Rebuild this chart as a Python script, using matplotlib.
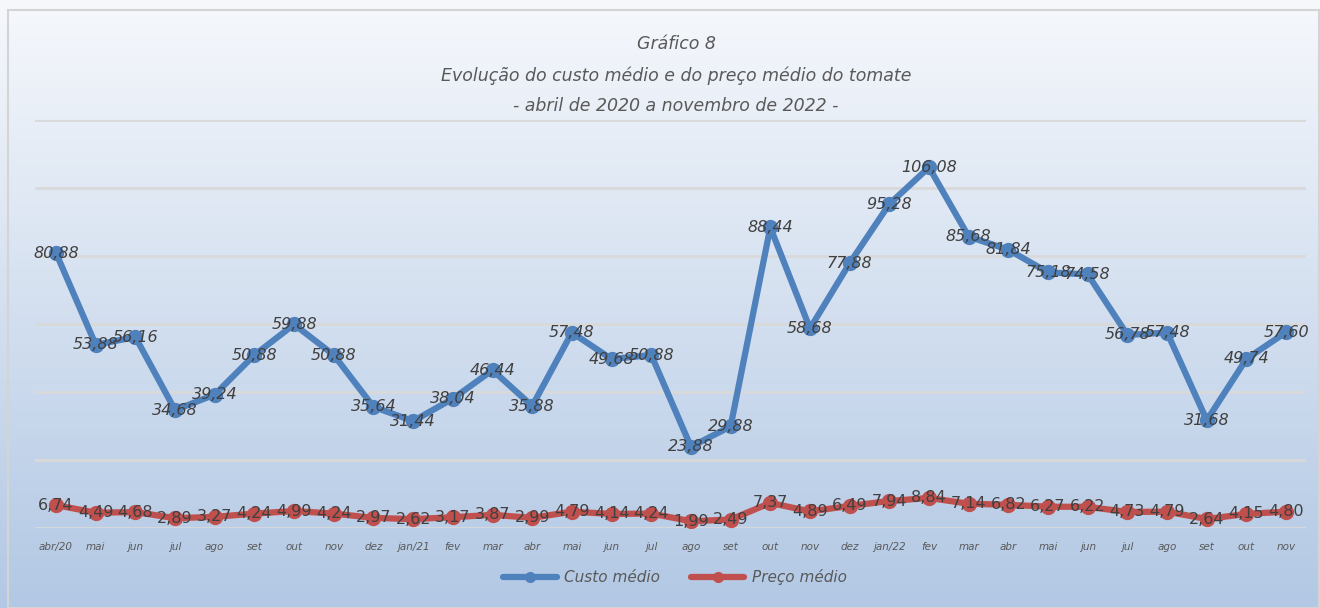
import matplotlib
matplotlib.use("Agg")
import matplotlib.pyplot as plt
import numpy as np
from matplotlib.patches import Rectangle

months = ["abr/20", "mai", "jun", "jul", "ago", "set", "out", "nov", "dez", "jan/21",
          "fev", "mar", "abr", "mai", "jun", "jul", "ago", "set", "out", "nov", "dez",
          "jan/22", "fev", "mar", "abr", "mai", "jun", "jul", "ago", "set", "out", "nov"]
custo = [80.88, 53.88, 56.16, 34.68, 39.24, 50.88, 59.88, 50.88, 35.64, 31.44,
         38.04, 46.44, 35.88, 57.48, 49.68, 50.88, 23.88, 29.88, 88.44, 58.68, 77.88,
         95.28, 106.08, 85.68, 81.84, 75.18, 74.58, 56.78, 57.48, 31.68, 49.74, 57.60]
preco = [6.74, 4.49, 4.68, 2.89, 3.27, 4.24, 4.99, 4.24, 2.97, 2.62,
         3.17, 3.87, 2.99, 4.79, 4.14, 4.24, 1.99, 2.49, 7.37, 4.89, 6.49,
         7.94, 8.84, 7.14, 6.82, 6.27, 6.22, 4.73, 4.79, 2.64, 4.15, 4.80]
title_lines = ["Gráfico 8",
               "Evolução do custo médio e do preço médio do tomate",
               "- abril de 2020 a novembro de 2022 -"]

W, H = 1320, 608
fig = plt.figure(figsize=(W / 100, H / 100), dpi=100)

# gradient background
bg = fig.add_axes([0, 0, 1, 1], zorder=0)
top = np.array([246, 248, 252]) / 255
bot = np.array([178, 200, 228]) / 255
t = np.linspace(0, 1, 256)[:, None]
grad = top[None, :] * (1 - t) + bot[None, :] * t
bg.imshow(grad[:, None, :], aspect="auto", extent=[0, 1, 0, 1])
bg.set_xlim(0, 1); bg.set_ylim(0, 1)
bg.axis("off")
fig.patches.append(Rectangle((8 / W, 0.5 / H), (W - 9) / W, (H - 10.5) / H,
                             transform=fig.transFigure, fill=False,
                             edgecolor="#d4d4d4", linewidth=1.5, zorder=1))

fam = ["DejaVu Sans"]
ax = fig.add_axes([35 / W, 1 - 528 / H, 1271 / W, (528 - 120) / H], zorder=2)
ax.patch.set_alpha(0)
x = np.arange(len(months))
ax.set_xlim(-0.53, len(months) - 0.5)
ax.set_ylim(0, 120)
for yv in range(0, 121, 20):
    ax.axhline(yv, color="#d9d9d9", linewidth=2, zorder=1)
ax.plot(x, custo, color="#4f81bd", linewidth=4.5, marker="o", markersize=10,
        solid_capstyle="round", solid_joinstyle="round", label="Custo médio", zorder=3)
ax.plot(x, preco, color="#c0504d", linewidth=4.5, marker="o", markersize=10,
        solid_capstyle="round", solid_joinstyle="round", label="Preço médio", zorder=3)
for xi, v in zip(x, custo):
    ax.text(xi, v, f"{v:.2f}".replace(".", ","), ha="center", va="center",
            fontsize=11.5, style="italic", color="#404040", family=fam, zorder=4)
for xi, v in zip(x, preco):
    ax.text(xi, v, f"{v:.2f}".replace(".", ","), ha="center", va="center",
            fontsize=11.5, color="#404040", family=fam, zorder=4)

ax.set_yticks([])
ax.set_xticks(x)
ax.set_xticklabels(months, fontsize=7.5, style="italic", color="#595959", family=fam)
ax.tick_params(axis="x", length=0, pad=10)
for s in ax.spines.values():
    s.set_visible(False)

ys = [44, 76, 106]
for line, yy in zip(title_lines, ys):
    fig.text(0.5 + 16 / W, 1 - yy / H, line, ha="center", va="center", fontsize=12.5,
             style="italic", color="#595959", family=fam, zorder=5)

leg = fig.legend(loc="center", bbox_to_anchor=(675 / W, 1 - 577 / H), ncol=2,
                 frameon=False, handlelength=3.5, columnspacing=2.0, handletextpad=0.5,
                 prop={"family": fam, "size": 11, "style": "italic"})
for txt in leg.get_texts():
    txt.set_color("#595959")
for h in leg.legend_handles:
    h.set_markersize(7)

fig.savefig("out.png", dpi=100)
